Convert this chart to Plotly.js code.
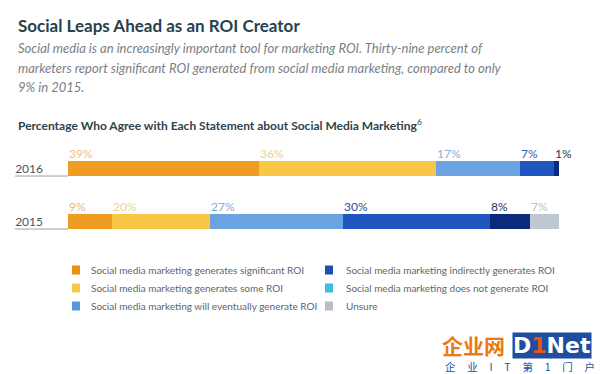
<!DOCTYPE html>
<html>
<head>
<meta charset="utf-8">
<script src="https://cdn.plot.ly/plotly-3.0.1.min.js"></script>
<style>html,body{margin:0;padding:0;background:#fff;}#chart{width:600px;height:374px;}</style>
</head>
<body>
<div id="chart"></div>
<script>
// ---- data ----
var years = ['2016', '2015'];
var significant = [39, 9];
var someRoi = [36, 20];
var eventually = [17, 27];
var indirectly = [7, 30];
var doesNot = [1, 8];
var unsure = [0, 7];
var seriesNames = [
  'Social media marketing generates significant ROI',
  'Social media marketing generates some ROI',
  'Social media marketing will eventually generate ROI',
  'Social media marketing indirectly generates ROI',
  'Social media marketing does not generate ROI',
  'Unsure'
];
var categoryOrder = ['2015', '2016'];
var watermarkChars = ['企', '业', 'I', 'T', '第', '1', '门', '户'];

// ---- styles ----
var barColors = ['#EE9C22', '#F9C645', '#6AA2E2', '#1F56C0', '#0C2A7C', '#BFC8D2'];
var legendColors = ['#E8920F', '#F8C84C', '#5A98DE', '#1D4FB3', '#3EBFE0', '#B9BFC7'];
var labelColors = [
  ['#EFC07E', '#E9B877'],
  ['#EDD08F', '#EDD29A'],
  ['#8CB0DC', '#86A8D8'],
  ['#3560B5', '#2F4E8F'],
  ['#2B3550', '#1F2F5F'],
  ['#B9C1CA', '#B9C1CA']
];
var series = [significant, someRoi, eventually, indirectly, doesNot, unsure];

var L = 68, R = 41, T = 142, B = 126, W = 600, H = 374;
var pw = W - L - R, ph = H - T - B;
function px(x) { return (x - L) / pw; }
function py(y) { return (H - B - y) / ph; }
var barWidth = 15 / 53;

var traces = series.map(function (vals, i) {
  return {
    type: 'bar', orientation: 'h', y: years, x: vals, name: seriesNames[i],
    marker: {color: barColors[i], line: {width: 0}},
    hoverinfo: 'x+name', showlegend: false
  };
});

var annotations = [];
var shapes = [];
var font = 'Lato, "Open Sans", sans-serif';

// percentage labels above each segment
years.forEach(function (yr, j) {
  var idx = categoryOrder.indexOf(yr);
  var cum = 0;
  series.forEach(function (vals, i) {
    var v = vals[j];
    if (v > 0) {
      annotations.push({
        x: cum, y: idx + barWidth / 2, xref: 'x', yref: 'y', text: v + '%', showarrow: false,
        xanchor: 'left', yanchor: 'bottom', yshift: -2, xshift: -1,
        font: {family: font, size: 12, color: labelColors[i][j]}
      });
    }
    cum += v;
  });
});

// underline under year labels
years.forEach(function (yr) {
  var idx = categoryOrder.indexOf(yr);
  shapes.push({
    type: 'line', xref: 'paper', yref: 'y', x0: px(15), x1: 0,
    y0: idx - barWidth / 2, y1: idx - barWidth / 2,
    line: {color: '#9AA1A8', width: 1}
  });
});

// titles
annotations.push({
  xref: 'paper', yref: 'paper', x: px(16), y: py(25), xanchor: 'left', yanchor: 'middle',
  showarrow: false, text: '<b>Social Leaps Ahead as an ROI Creator</b>',
  font: {family: font, size: 17, color: '#25424D'}
});
var subLines = [
  'Social media is an increasingly important tool for marketing ROI. Thirty-nine percent of',
  'marketers report significant ROI generated from social media marketing, compared to only',
  '9% in 2015.'
];
var subY = [48, 68, 87];
subLines.forEach(function (t, k) {
  annotations.push({
    xref: 'paper', yref: 'paper', x: px(16), y: py(subY[k]), xanchor: 'left', yanchor: 'middle',
    showarrow: false, text: '<i>' + t + '</i>',
    font: {family: font, size: 13, color: '#7A7F85'}
  });
});
annotations.push({
  xref: 'paper', yref: 'paper', x: px(16), y: py(125), xanchor: 'left', yanchor: 'middle',
  showarrow: false, text: '<b>Percentage Who Agree with Each Statement about Social Media Marketing</b><sup>6</sup>',
  font: {family: font, size: 12, color: '#2E434B'}
});

// legend (two columns)
var colSwX = [72, 325], colTxX = [89, 344], rowY = [270, 288, 306];
seriesNames.forEach(function (name, k) {
  var c = Math.floor(k / 3), r = k % 3;
  shapes.push({
    type: 'rect', xref: 'paper', yref: 'paper',
    x0: px(colSwX[c]), x1: px(colSwX[c] + 8), y0: py(rowY[r] + 4.5), y1: py(rowY[r] - 4.5),
    fillcolor: legendColors[k], line: {width: 0}
  });
  annotations.push({
    xref: 'paper', yref: 'paper', x: px(colTxX[c]), y: py(rowY[r]), xanchor: 'left', yanchor: 'middle',
    showarrow: false, text: name,
    font: {family: font, size: 10, color: '#5C6670'}
  });
});

// watermark
annotations.push({
  xref: 'paper', yref: 'paper', x: px(440), y: py(345), xanchor: 'left', yanchor: 'middle',
  showarrow: false, text: '<b>企业网</b>',
  font: {family: '"Noto Sans CJK SC", sans-serif', size: 21, color: '#EC7A12'}
});
annotations.push({
  xref: 'paper', yref: 'paper', x: px(512), y: py(345), xanchor: 'left', yanchor: 'middle',
  showarrow: false, text: '<b>D<span style="color:#E8541C">1</span>Net</b>', bgcolor: '#1F4E9E', borderpad: 0,
  font: {family: '"DejaVu Sans", sans-serif', size: 22, color: '#FFFFFF'}
});
annotations.push({
  xref: 'paper', yref: 'paper', x: px(443), y: py(366), xanchor: 'left', yanchor: 'middle',
  showarrow: false, text: watermarkChars.join('&nbsp;&nbsp;&nbsp;&nbsp;&nbsp;'),
  font: {family: '"Noto Sans CJK SC", sans-serif', size: 10.5, color: '#1F4E9E'}
});

var layout = {
  width: W, height: H,
  margin: {l: L, r: R, t: T, b: B, pad: 0},
  paper_bgcolor: '#FFFFFF', plot_bgcolor: '#FFFFFF',
  barmode: 'stack', bargap: 1 - barWidth,
  showlegend: false,
  xaxis: {range: [0, 100], visible: false, fixedrange: true},
  yaxis: {
    type: 'category', categoryorder: 'array', categoryarray: categoryOrder,
    range: [-0.5, 1.5], showgrid: false, zeroline: false, showline: false, ticks: '',
    ticklabelstandoff: 24,
    tickfont: {family: font, size: 12, color: '#4A5560'}, fixedrange: true
  },
  annotations: annotations, shapes: shapes
};

Plotly.newPlot('chart', traces, layout, {displayModeBar: false, staticPlot: true});
</script>
</body>
</html>
